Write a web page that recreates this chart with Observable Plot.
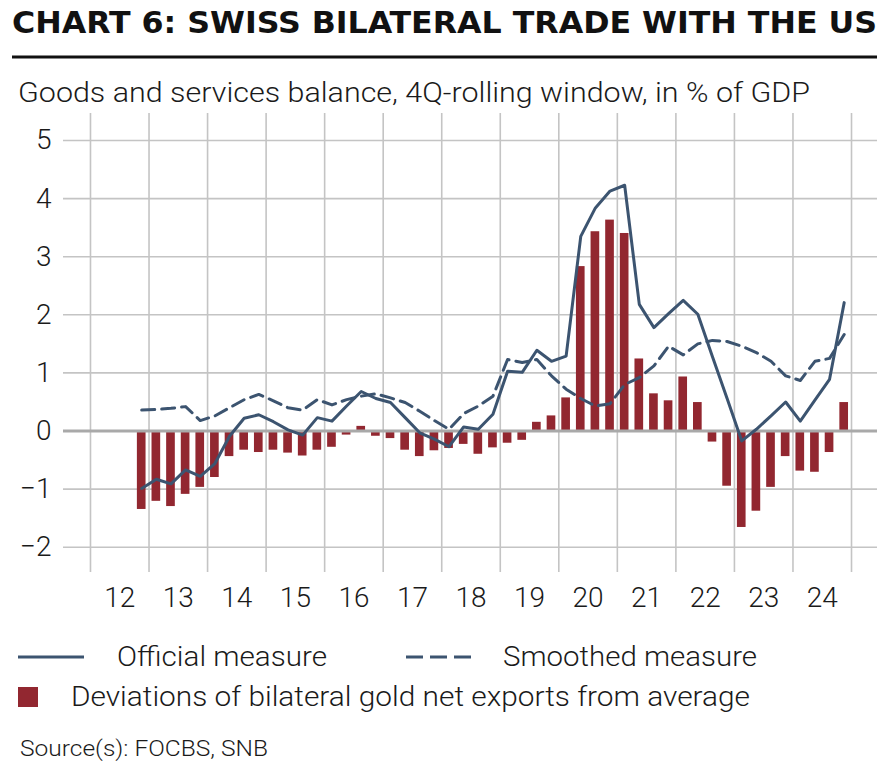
<!DOCTYPE html>
<html><head><meta charset="utf-8">
<script src="https://cdn.jsdelivr.net/npm/d3@7"></script>
<script src="https://cdn.jsdelivr.net/npm/@observablehq/plot@0.6"></script>
<style>
body{margin:0;background:#fff;}
#wrap{position:relative;width:895px;height:769px;overflow:hidden;}
#chart{position:absolute;left:0;top:110px;}
#overlay{position:absolute;left:0;top:0;}
</style></head><body>
<div id="wrap">
<div id="chart"></div>
<svg id="overlay" width="895" height="769" font-family="Roboto, 'Liberation Sans', sans-serif">
  <text x="12" y="33" font-family="'Liberation Sans Narrow','Arial Narrow','DejaVu Sans Condensed',sans-serif" font-weight="bold" font-size="31" fill="#111" textLength="865" lengthAdjust="spacingAndGlyphs">CHART 6: SWISS BILATERAL TRADE WITH THE US</text>
  <line x1="12" x2="877" y1="57" y2="57" stroke="#111" stroke-width="3"/>
  <text x="18" y="102" font-size="27" font-weight="300" fill="#1a1a1a" textLength="792" lengthAdjust="spacingAndGlyphs">Goods and services balance, 4Q-rolling window, in % of GDP</text>
  <line x1="18" x2="84" y1="657" y2="657" stroke="#3c5470" stroke-width="3"/>
  <text x="117" y="666" font-size="27" font-weight="300" fill="#1a1a1a" textLength="210" lengthAdjust="spacingAndGlyphs">Official measure</text>
  <line x1="406" x2="472" y1="657" y2="657" stroke="#3c5470" stroke-width="3" stroke-dasharray="17,7"/>
  <text x="503" y="666" font-size="27" font-weight="300" fill="#1a1a1a" textLength="254" lengthAdjust="spacingAndGlyphs">Smoothed measure</text>
  <rect x="18" y="687" width="20" height="20" fill="#922730"/>
  <text x="71" y="706" font-size="27" font-weight="300" fill="#1a1a1a" textLength="679" lengthAdjust="spacingAndGlyphs">Deviations of bilateral gold net exports from average</text>
  <text x="20" y="756" font-size="22" font-weight="300" fill="#1a1a1a" textLength="248" lengthAdjust="spacingAndGlyphs">Source(s): FOCBS, SNB</text>
</svg>
</div>
<script>
// Quarters 2012Q4 .. 2024Q4
const quarters = [
  "2012Q4",
  "2013Q1","2013Q2","2013Q3","2013Q4",
  "2014Q1","2014Q2","2014Q3","2014Q4",
  "2015Q1","2015Q2","2015Q3","2015Q4",
  "2016Q1","2016Q2","2016Q3","2016Q4",
  "2017Q1","2017Q2","2017Q3","2017Q4",
  "2018Q1","2018Q2","2018Q3","2018Q4",
  "2019Q1","2019Q2","2019Q3","2019Q4",
  "2020Q1","2020Q2","2020Q3","2020Q4",
  "2021Q1","2021Q2","2021Q3","2021Q4",
  "2022Q1","2022Q2","2022Q3","2022Q4",
  "2023Q1","2023Q2","2023Q3","2023Q4",
  "2024Q1","2024Q2","2024Q3","2024Q4"
];
const official = [
  -0.99,
  -0.83, -0.91, -0.67, -0.78,
  -0.56, -0.09, 0.22, 0.28,
  0.16, 0.02, -0.07, 0.23,
  0.17, 0.43, 0.68, 0.56,
  0.49, 0.23, -0.03, -0.14,
  -0.27, 0.07, 0.03, 0.29,
  1.03, 1.01, 1.39, 1.20,
  1.29, 3.35, 3.84, 4.13,
  4.23, 2.18, 1.78, 2.02,
  2.25, 2.01, 1.28, 0.56,
  -0.17, 0.03, 0.26, 0.50,
  0.17, 0.53, 0.89, 2.21
];
const smoothed = [
  0.36,
  0.37, 0.39, 0.42, 0.18,
  0.26, 0.40, 0.54, 0.63,
  0.52, 0.40, 0.36, 0.54,
  0.45, 0.54, 0.60, 0.64,
  0.57, 0.49, 0.34, 0.18,
  0.03, 0.30, 0.43, 0.60,
  1.23, 1.18, 1.23, 0.95,
  0.72, 0.56, 0.43, 0.47,
  0.80, 0.92, 1.12, 1.46,
  1.31, 1.50, 1.56, 1.54,
  1.46, 1.35, 1.20, 0.95,
  0.87, 1.20, 1.25, 1.66
];
const gold = [
  -1.35,
  -1.21, -1.30, -1.09, -0.97,
  -0.80, -0.44, -0.33, -0.37,
  -0.33, -0.38, -0.43, -0.33,
  -0.28, -0.07, 0.08, -0.09,
  -0.13, -0.33, -0.44, -0.34,
  -0.30, -0.23, -0.40, -0.29,
  -0.21, -0.16, 0.15, 0.26,
  0.57, 2.83, 3.43, 3.63,
  3.40, 1.24, 0.64, 0.52,
  0.93, 0.49, -0.19, -0.95,
  -1.66, -1.38, -0.97, -0.44,
  -0.69, -0.71, -0.37, 0.49
];
const xLabels = ["12","13","14","15","16","17","18","19","20","21","22","23","24"];
const yTicks = [-2, -1, 0, 1, 2, 3, 4, 5];

const toT = q => +q.slice(0, 4) + (+q.slice(5) - 0.5) / 4;
const data = quarters.map((q, i) => ({t: toT(q), official: official[i], smoothed: smoothed[i], gold: gold[i]}));
const yearStarts = xLabels.map(l => 2000 + +l);
const yearEdges = [...yearStarts, yearStarts[yearStarts.length - 1] + 1];
const yearMids = yearStarts.map(y => y + 0.5);
const half = 0.074;
const lineColor = "#3c5470";

const chart = Plot.plot({
  width: 895,
  height: 510,
  marginLeft: 63,
  marginRight: 18,
  marginTop: 3,
  marginBottom: 48,
  x: {domain: [2011.539, 2025.444], label: null},
  y: {domain: [-2.435, 5.465], label: null},
  style: {fontFamily: "Roboto, 'Liberation Sans', sans-serif", fontSize: "28px", fontWeight: 300, color: "#1a1a1a", background: "transparent", overflow: "visible"},
  marks: [
    Plot.ruleX(yearEdges, {stroke: "#c4c4c4", strokeWidth: 1.6}),
    Plot.ruleY(yTicks.filter(d => d !== 0), {stroke: "#c4c4c4", strokeWidth: 1.6}),
    Plot.rect(data, {x1: d => d.t - half, x2: d => d.t + half, y1: d => 0, y2: "gold", fill: "#922730"}),
    Plot.ruleY([0], {stroke: "#a9a9a9", strokeWidth: 3}),
    Plot.line(data, {x: "t", y: "smoothed", stroke: lineColor, strokeWidth: 3, strokeDasharray: "13,7"}),
    Plot.line(data, {x: "t", y: "official", stroke: lineColor, strokeWidth: 3}),
    Plot.axisY(yTicks, {tickSize: 0, tickPadding: 12, fontSize: 28, label: null, tickFormat: d => d3.format("d")(d).replace("-", "\u2212")}),
    Plot.axisX(yearMids, {tickSize: 0, tickPadding: 15, fontSize: 28, label: null, tickFormat: (d, i) => xLabels[i]})
  ]
});
document.getElementById("chart").appendChild(chart);
</script>
</body></html>
